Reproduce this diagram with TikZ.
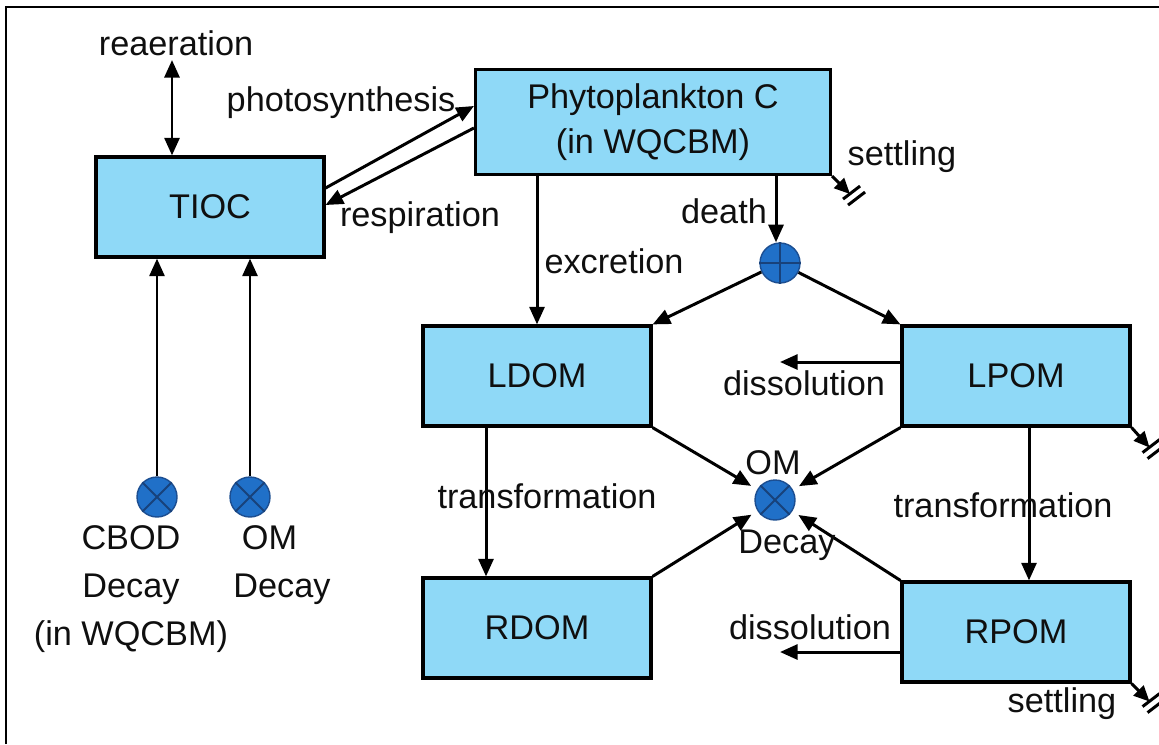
\documentclass[tikz,border=0pt]{standalone}
\usepackage{fontspec}
\setmainfont{Liberation Sans}
\usetikzlibrary{arrows.meta,calc}
\definecolor{boxfill}{RGB}{143,217,247}
\definecolor{dotfill}{RGB}{32,112,200}
\definecolor{dotedge}{RGB}{28,78,145}
\definecolor{inkgray}{RGB}{15,15,15}
\begin{document}
\begin{tikzpicture}[x=0.02cm,y=-0.02cm,
  lbl/.style={inner sep=0pt,text=inkgray,font=\fontsize{19.5}{27.5}\selectfont},
  pool/.style={draw,line width=1.8pt,fill=boxfill,minimum width=4.56cm,minimum height=2cm,
    inner sep=0pt,align=center,text=inkgray,font=\fontsize{19.5}{25.5}\selectfont},
  dot/.style={circle,fill=dotfill,draw=dotedge,line width=0.8pt,minimum size=0.8cm,inner sep=0pt},
  dotmark/.style={draw=dotedge!85!black,line width=1.1pt},
  flow/.style={line width=1.7pt,-{Triangle[length=10pt,width=8.5pt]}},
  twoway/.style={line width=1.7pt,{Triangle[length=10pt,width=8.5pt]}-{Triangle[length=10pt,width=8.5pt]}},
  pics/sink/.style={code={
    \draw[line width=1.7pt] (-7,5) -- (10,-8);
    \draw[line width=1.7pt] (-2,11) -- (15,-2);}}
]
\useasboundingbox (0,0) rectangle (1159,744);

% frame
\draw[line width=1.6pt] (6,744) -- (6,7) -- (1159,7);

% pools
\node[pool] (tioc) at (210,207) {TIOC};
\node[pool,minimum width=7.1cm,minimum height=2.1cm] (phyto) at (653,122) {Phytoplankton C\\(in WQCBM)};
\node[pool] (ldom) at (537,376) {LDOM};
\node[pool] (lpom) at (1016,376) {LPOM};
\node[pool] (rdom) at (537,628) {RDOM};
\node[pool] (rpom) at (1016,632) {RPOM};

% junctions
\node[dot] (split) at (780,263) {};
\draw[dotmark] (split.north) -- (split.south) (split.west) -- (split.east);
\node[dot] (cbod) at (157,497) {};
\node[dot] (omleft) at (250,497) {};
\node[dot] (omdecay) at (775,500) {};
\foreach \c in {cbod,omleft,omdecay}
  \draw[dotmark] (\c.north west) -- (\c.south east) (\c.north east) -- (\c.south west);

% reaeration
\coordinate (air) at (172,60);
\draw[twoway] (air) -- (air |- tioc.north);
\node[lbl] (reaer) at (176,43) {reaeration};

% photosynthesis and respiration
\draw[flow] ([yshift=0.38cm]tioc.east) -- ([yshift=0.32cm]phyto.west);
\draw[flow] ([yshift=-0.12cm]phyto.west) -- ([yshift=0.04cm]tioc.east);
\node[lbl] (photo) at (341,103) {photosynthesis};
\node[lbl] (resp) at (420,218) {respiration};

% excretion and death
\draw[flow] (ldom.north |- phyto.south) -- (ldom.north);
\node[lbl] (excr) at (614,261) {excretion};
\draw[flow] ([xshift=-0.08cm]split.north |- phyto.south) -- ([xshift=-0.08cm]split.north);
\node[lbl] (death) at (724,211) {death};
\draw[flow] (split) -- (ldom.north east);
\draw[flow] (split) -- (lpom.north west);

% settling losses
\draw[line width=1.7pt,-{Triangle[length=9pt,width=8pt]}] (phyto.south east) -- ++(18,18) coordinate (sink1);
\pic at (sink1) {sink};
\node[lbl] (settle1) at (902,157) {settling};
\draw[line width=1.7pt,-{Triangle[length=9pt,width=8pt]}] (lpom.south east) -- ++(18,20) coordinate (sink2);
\pic at (sink2) {sink};
\draw[line width=1.7pt,-{Triangle[length=9pt,width=8pt]}] (rpom.south east) -- ++(18,18) coordinate (sink3);
\pic at (sink3) {sink};
\node[lbl] (settle3) at (1062,704) {settling};

% dissolution
\coordinate (diss1) at (780,362);
\draw[flow] (lpom.west |- diss1) -- (diss1);
\node[lbl] (dissl1) at (804,383) {dissolution};
\coordinate (diss2) at (780,652);
\draw[flow] (rpom.west |- diss2) -- (diss2);
\node[lbl] (dissl2) at (810,627) {dissolution};

% transformation
\draw[flow] ([xshift=-1.02cm]ldom.south) -- ([xshift=-1.02cm]rdom.north);
\node[lbl] (trans1) at (547,496) {transformation};
\draw[flow] ([xshift=0.26cm]lpom.south) -- ([xshift=0.26cm]rpom.north);
\node[lbl] (trans2) at (1003,505) {transformation};

% organic matter decay
\draw[flow,shorten >=4pt] (ldom.south east) -- (omdecay);
\draw[flow,shorten >=4pt] (lpom.south west) -- (omdecay);
\draw[flow,shorten >=4pt] (rdom.north east) -- (omdecay);
\draw[flow,shorten >=4pt] (rpom.north west) -- (omdecay);
\node[lbl] (omtop) at (773,463) {OM};
\node[lbl] (decaybot) at (787,545) {Decay};

% decay terms feeding TIOC
\draw[flow] (cbod) -- (cbod |- tioc.south);
\draw[flow] (omleft) -- (omleft |- tioc.south);
\node[lbl,align=center] (cbodtxt) at (131,589) {CBOD\\Decay\\(in WQCBM)};
\node[lbl,align=center] (omtxt) at (282,565) {\hspace*{-0.5cm}OM\\Decay};
\end{tikzpicture}
\end{document}
